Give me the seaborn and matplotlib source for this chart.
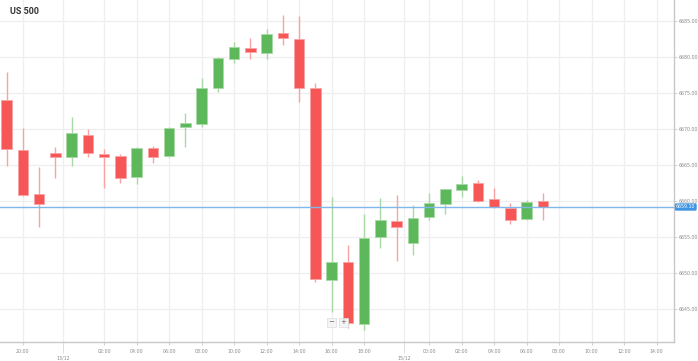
import matplotlib
matplotlib.use("Agg")
import matplotlib.pyplot as plt
import numpy as np
import pandas as pd
import seaborn as sns

# hourly candles, left to right
opens = [6673.96, 6667.01, 6660.90, 6666.56, 6666.08, 6669.06, 6666.46, 6666.22,
         6663.22, 6667.25, 6666.18, 6670.21, 6670.62, 6675.67, 6679.65, 6681.22,
         6680.44, 6683.22, 6682.39, 6675.67, 6648.96, 6651.42, 6642.85, 6654.89,
         6657.19, 6654.06, 6657.67, 6659.47, 6661.46, 6662.47, 6660.21, 6658.92,
         6657.43, 6659.93]
highs = [6677.89, 6670.11, 6664.61, 6667.39, 6671.56, 6669.89, 6667.15, 6666.40,
         6667.40, 6667.57, 6670.25, 6672.11, 6676.97, 6679.90, 6682.06, 6682.61,
         6683.78, 6685.76, 6685.62, 6676.28, 6660.53, 6653.82, 6658.08, 6660.31,
         6660.76, 6659.38, 6661.08, 6661.60, 6663.40, 6662.85, 6661.78, 6659.61,
         6660.07, 6661.00]
lows = [6664.83, 6660.67, 6656.36, 6663.08, 6664.83, 6666.08, 6661.69, 6662.39,
        6662.36, 6665.17, 6666.08, 6667.47, 6670.17, 6675.11, 6679.14, 6679.61,
        6679.61, 6681.60, 6673.64, 6648.72, 6644.56, 6642.25, 6642.01, 6653.36,
        6651.64, 6652.43, 6657.29, 6658.12, 6660.53, 6659.83, 6658.92, 6656.69,
        6657.29, 6657.29]
closes = [6667.11, 6660.76, 6659.51, 6666.04, 6669.33, 6666.56, 6666.04, 6663.08,
          6667.33, 6666.08, 6670.03, 6670.72, 6675.58, 6679.83, 6681.36, 6680.58,
          6683.08, 6682.61, 6675.58, 6649.06, 6651.50, 6642.94, 6654.83, 6657.29,
          6656.36, 6657.53, 6659.61, 6661.56, 6662.29, 6659.97, 6659.14, 6657.29,
          6659.79, 6659.14]
current_price = 6659.10

time_tick_pos = [1, 6, 8, 10, 12, 14, 16, 18, 20, 22, 26, 28, 30, 32, 34, 36, 38, 40]
time_tick_labels = ["20:00", "02:00", "04:00", "06:00", "08:00", "10:00", "12:00",
                    "14:00", "16:00", "18:00", "00:00", "02:00", "04:00", "06:00",
                    "08:00", "10:00", "12:00", "14:00"]
date_tick_pos = [3.46, 24.47]
date_tick_labels = ["13/12", "15/12"]
price_ticks = [6645, 6650, 6655, 6660, 6665, 6670, 6675, 6680, 6685]

df = pd.DataFrame({"open": opens, "high": highs, "low": lows, "close": closes})
df["x"] = np.arange(len(df))
df["up"] = df["close"] >= df["open"]

sns.set_style("white")

RED = "#f65656"
GREEN = "#5cb85a"
RED_WICK = "#f9a3a3"
GREEN_WICK = "#a9d9a6"
GRID = "#efefef"
TXT = "#8a8a8a"

fig = plt.figure(figsize=(6.98, 3.61), dpi=100)
ax = fig.add_axes([0, 19 / 361, 674 / 698, 342 / 361])

ax.set_xlim(-0.41, 41.07)
ax.set_ylim(6640.35, 6687.85)

# grid
for p in price_ticks:
    ax.axhline(p, color=GRID, lw=0.9, zorder=0)
for p in time_tick_pos + date_tick_pos:
    ax.axvline(p, color=GRID, lw=0.9, zorder=0)

# wicks
ax.vlines(df["x"], df["low"], df["high"],
          colors=[GREEN_WICK if u else RED_WICK for u in df["up"]], lw=1.0, zorder=2)

# bodies
bottoms = df[["open", "close"]].min(axis=1)
heights = (df["close"] - df["open"]).abs().clip(lower=0.25)
ax.bar(df["x"], heights, bottom=bottoms, width=0.64,
       color=[GREEN if u else RED for u in df["up"]],
       edgecolor=[GREEN_WICK if u else RED_WICK for u in df["up"]],
       linewidth=0.6, zorder=3)

# current price line
ax.axhline(current_price, color="#7fb7ea", lw=1.0, zorder=4)

for s in ["top", "left"]:
    ax.spines[s].set_visible(False)
for s in ["right", "bottom"]:
    ax.spines[s].set_color("#c8c8c8")
    ax.spines[s].set_linewidth(1.0)

ax.set_xticks(time_tick_pos)
ax.set_xticklabels(time_tick_labels, fontsize=3.4, color=TXT)
ax.set_xticks(date_tick_pos, minor=True)
ax.set_xticklabels(date_tick_labels, minor=True, fontsize=3.4, color=TXT)
ax.tick_params(axis="x", which="major", length=2.5, width=0.6, color="#c8c8c8",
               pad=2.5, bottom=True)
ax.tick_params(axis="x", which="minor", length=8, width=0.6, color="#d8d8d8",
               pad=1.5, bottom=True)

ax.yaxis.tick_right()
ax.set_yticks(price_ticks)
ax.set_yticklabels([f"{p:.2f}" for p in price_ticks], fontsize=3.4, color=TXT)
ax.tick_params(axis="y", length=2, width=0.6, color="#c8c8c8", pad=1.5, right=True)

# current price tag
ax.text(1.003, current_price, f"{current_price:.2f}", transform=ax.get_yaxis_transform(),
        fontsize=3.4, color="white", va="center", ha="left", zorder=6, clip_on=False,
        bbox=dict(boxstyle="round,pad=0.25,rounding_size=0.3", fc="#3f95e2", ec="none"))

# zoom buttons
ax.text(0.4915, 0.058, "−", transform=ax.transAxes, fontsize=5, color="#666666",
        ha="center", va="center", zorder=6,
        bbox=dict(boxstyle="square,pad=0.2", fc="#f4f4f4", ec="#dddddd", lw=0.5))
ax.text(0.5095, 0.058, "+", transform=ax.transAxes, fontsize=5, color="#666666",
        ha="center", va="center", zorder=6,
        bbox=dict(boxstyle="square,pad=0.2", fc="#f4f4f4", ec="#dddddd", lw=0.5))

fig.text(10 / 698, 1 - 11 / 361, "US 500", fontsize=6.5, fontweight="bold",
         family="Roboto", color="#333333", va="center", ha="left")

fig.savefig("out.png", dpi=100)
